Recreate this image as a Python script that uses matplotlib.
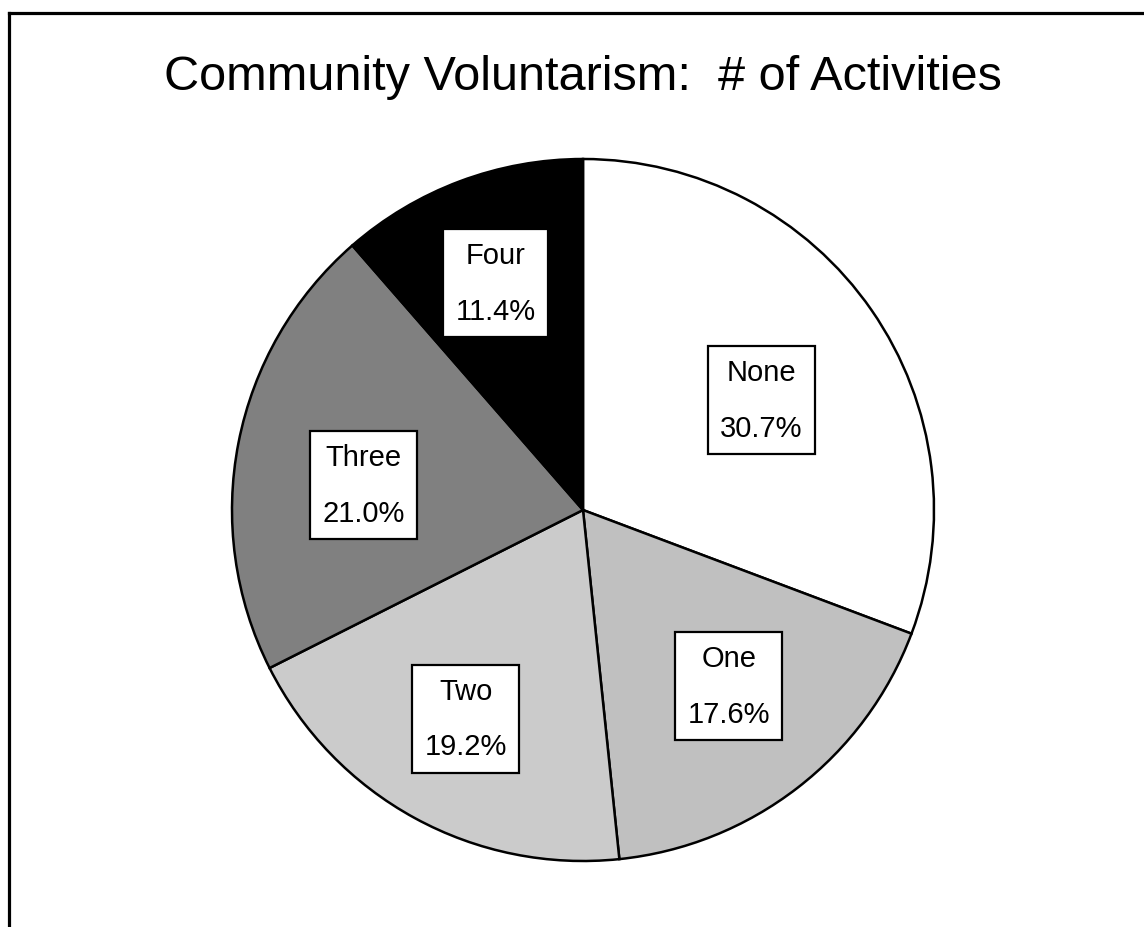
import matplotlib
matplotlib.use("Agg")
import matplotlib.pyplot as plt
from matplotlib.lines import Line2D
import numpy as np

plt.rcParams['font.family'] = ['Liberation Sans', 'DejaVu Sans']

categories = ["None", "One", "Two", "Three", "Four"]
percents = [30.7, 17.6, 19.2, 21.0, 11.4]
colors = ["#ffffff", "#c0c0c0", "#cbcbcb", "#808080", "#000000"]
label_dist = [0.598, 0.651, 0.682, 0.630, 0.693]
label_ang_off = [-3.0, 2.0, -0.7, 4.6, 0.5]

W, H = 1144, 928
fig = plt.figure(figsize=(W / 100, H / 100), dpi=100)

# frame (clipped at right and bottom as in reference)
fig.add_artist(Line2D([9 / W, 1.0], [1 - 14 / H, 1 - 14 / H], transform=fig.transFigure,
                      color="black", lw=2.3, solid_capstyle="projecting"))
fig.add_artist(Line2D([9 / W, 9 / W], [1 - 14 / H, 0.0], transform=fig.transFigure,
                      color="black", lw=2.3, solid_capstyle="projecting"))

fig.text(583 / W, 1 - 78 / H, "Community Voluntarism:  # of Activities",
         ha="center", va="center", fontsize=35)

cx, cy, r = 583, 511, 351
ax = fig.add_axes([(cx - r) / W, (H - cy - r) / H, 2 * r / W, 2 * r / H])
wedges, _ = ax.pie(percents, colors=colors, startangle=90, counterclock=False,
                   radius=1.0, wedgeprops=dict(edgecolor="black", linewidth=1.8))
ax.set_xlim(-1, 1)
ax.set_ylim(-1, 1)
ax.set_aspect("equal")
ax.axis("off")

for w, cat, p, d, off in zip(wedges, categories, percents, label_dist, label_ang_off):
    ang = np.deg2rad((w.theta1 + w.theta2) / 2 + off)
    ax.text(d * np.cos(ang), d * np.sin(ang), f"{cat}\n{p:.1f}%",
            ha="center", va="center", fontsize=21, linespacing=2.25,
            bbox=dict(boxstyle="square,pad=0.42", fc="white", ec="black", lw=1.6))

fig.savefig("out.png", dpi=100)
